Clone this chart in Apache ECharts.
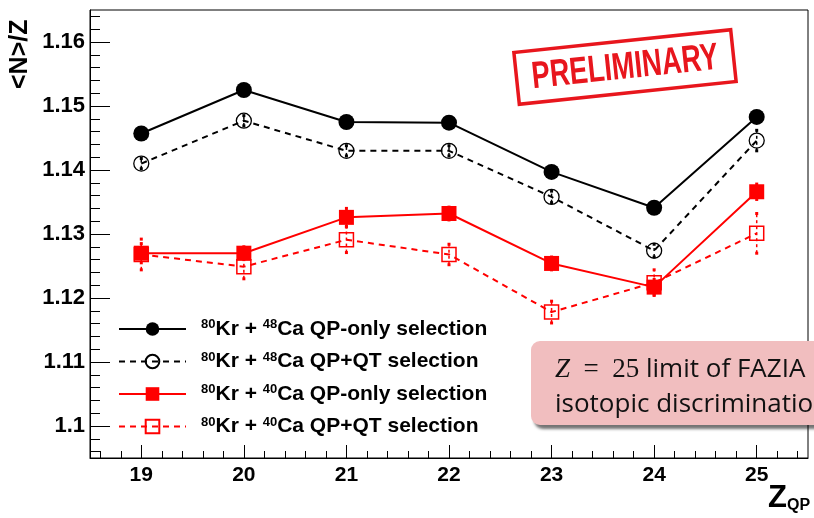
<!DOCTYPE html>
<html><head><meta charset="utf-8">
<script src="https://cdn.jsdelivr.net/npm/echarts@6/dist/echarts.min.js"></script>
<style>html,body{margin:0;padding:0;background:#fff}#c{width:814px;height:518px}</style>
</head><body><div id="c"></div>
<script>
// ---- data ----
const zValues = [19, 20, 21, 22, 23, 24, 25];
const ca48QPonly = [1.1457, 1.1525, 1.1475, 1.1474, 1.1397, 1.1341, 1.1483];
const ca48QPonlyErr = [0.0006, 0.0006, 0.0006, 0.0006, 0.0006, 0.0006, 0.0007];
const ca48QPQT = [1.1410, 1.1477, 1.1430, 1.1430, 1.1358, 1.1274, 1.1446];
const ca48QPQTErr = [0.0008, 0.0008, 0.0008, 0.0008, 0.0009, 0.0010, 0.0016];
const ca40QPonly = [1.1270, 1.1270, 1.1326, 1.1332, 1.1254, 1.1217, 1.1366];
const ca40QPonlyErr = [0.0015, 0.0010, 0.0014, 0.0010, 0.0010, 0.0012, 0.0012];
const ca40QPQT = [1.1268, 1.1249, 1.1291, 1.1268, 1.1178, 1.1224, 1.1301];
const ca40QPQTErr = [0.0024, 0.0019, 0.0020, 0.0016, 0.0017, 0.0020, 0.0031];
const xTickLabels = [19, 20, 21, 22, 23, 24, 25];
const yTickLabels = [1.10, 1.11, 1.12, 1.13, 1.14, 1.15, 1.16];
const seriesNames = [
  '{sup|80}{t|Kr + }{sup|48}{t|Ca QP-only selection}',
  '{sup|80}{t|Kr + }{sup|48}{t|Ca QP+QT selection}',
  '{sup|80}{t|Kr + }{sup|40}{t|Ca QP-only selection}',
  '{sup|80}{t|Kr + }{sup|40}{t|Ca QP+QT selection}'
];

// ---- axes helpers ----
const X_MIN = 18.5, X_MAX = 25.5, Y_MIN = 1.095, Y_MAX = 1.165;
function minorList(min, max, step) {
  const out = [];
  const n = Math.round((max - min) / step);
  for (let i = 0; i <= n; i++) {
    const v = Math.round((Math.ceil(min / step) * step + i * step) * 1e6) / 1e6;
    if (v > min && v < max) out.push(v);
  }
  return out;
}
const xMinor = minorList(X_MIN, X_MAX, 0.2);
const yMinor = minorList(Y_MIN, Y_MAX, 0.002);

const FONT = 'Liberation Sans, Arial, Helvetica, sans-serif';
const RED = '#ff0000';

function pairs(vals) { return zValues.map((z, i) => [z, vals[i]]); }
function errData(vals, errs) { return zValues.map((z, i) => [z, vals[i] - errs[i], vals[i] + errs[i]]); }
function errRender(color, dashed) {
  return function (params, api) {
    const x = api.value(0);
    const pLo = api.coord([x, api.value(1)]);
    const pHi = api.coord([x, api.value(2)]);
    const st = { stroke: color, lineWidth: 1.5, lineDash: dashed ? [3, 3] : null, fill: null };
    const cs = { stroke: color, lineWidth: 3, fill: null };
    return {
      type: 'group', children: [
        { type: 'line', shape: { x1: pLo[0], y1: pLo[1], x2: pHi[0], y2: pHi[1] }, style: st },
        { type: 'line', shape: { x1: pLo[0], y1: pLo[1] - 1.5, x2: pLo[0], y2: pLo[1] + 1.5 }, style: cs },
        { type: 'line', shape: { x1: pHi[0], y1: pHi[1] - 1.5, x2: pHi[0], y2: pHi[1] + 1.5 }, style: cs }
      ]
    };
  };
}

const chart = echarts.init(document.getElementById('c'), null, { renderer: 'canvas' });
const axisBase = { lineStyle: { color: '#000', width: 1 } };

chart.setOption({
  animation: false,
  backgroundColor: '#fff',
  grid: { left: 90, top: 10, right: 6, bottom: 60, show: true, borderColor: '#000', borderWidth: 1, containLabel: false, outerBoundsMode: 'none' },
  xAxis: [
    {
      type: 'value', min: X_MIN, max: X_MAX, position: 'bottom',
      axisLine: axisBase,
      splitLine: { show: false },
      axisTick: { show: true, inside: true, length: 13, lineStyle: { color: '#000' }, customValues: xTickLabels },
      axisLabel: { customValues: xTickLabels, color: '#000', fontFamily: FONT, fontWeight: 'bold', fontSize: 21, margin: 7 }
    },
    {
      type: 'value', min: X_MIN, max: X_MAX, position: 'bottom', gridIndex: 0,
      axisLine: { show: false },
      splitLine: { show: false },
      axisTick: { show: true, inside: true, length: 7, lineStyle: { color: '#000' }, customValues: xMinor },
      axisLabel: { show: false }
    }
  ],
  yAxis: [
    {
      type: 'value', min: Y_MIN, max: Y_MAX, position: 'left',
      axisLine: { show: true, lineStyle: { color: '#000', width: 1 } },
      splitLine: { show: false },
      axisTick: { show: true, inside: true, length: 20, lineStyle: { color: '#000' }, customValues: yTickLabels },
      axisLabel: { customValues: yTickLabels, color: '#000', fontFamily: FONT, fontWeight: 'bold', fontSize: 22, margin: 5,
        formatter: v => String(Math.round(v * 1000) / 1000) }
    },
    {
      type: 'value', min: Y_MIN, max: Y_MAX, position: 'left',
      axisLine: { show: false },
      splitLine: { show: false },
      axisTick: { show: true, inside: true, length: 10, lineStyle: { color: '#000' }, customValues: yMinor },
      axisLabel: { show: false }
    }
  ],
  legend: {
    orient: 'vertical', left: 118, top: 318, padding: 0,
    itemWidth: 67, itemHeight: 17, itemGap: 11,
    selectedMode: false,
    data: seriesNames,
    formatter: n => n,
    textStyle: {
      color: '#000', padding: [0, 0, 0, 10],
      rich: {
        t: { fontFamily: FONT, fontWeight: 'bold', fontSize: 21, lineHeight: 22, color: '#000' },
        sup: { fontFamily: FONT, fontWeight: 'bold', fontSize: 13, lineHeight: 13, verticalAlign: 'top', color: '#000' }
      }
    }
  },
  series: [
    { type: 'custom', name: 'e1', renderItem: errRender('#000', false), data: errData(ca48QPonly, ca48QPonlyErr), z: 1, silent: true },
    { type: 'custom', name: 'e2', renderItem: errRender('#000', true), data: errData(ca48QPQT, ca48QPQTErr), z: 1, silent: true },
    { type: 'custom', name: 'e3', renderItem: errRender(RED, false), data: errData(ca40QPonly, ca40QPonlyErr), z: 1, silent: true },
    { type: 'custom', name: 'e4', renderItem: errRender(RED, true), data: errData(ca40QPQT, ca40QPQTErr), z: 1, silent: true },
    {
      type: 'line', name: seriesNames[0], data: pairs(ca48QPonly), symbol: 'circle', symbolSize: 16,
      lineStyle: { color: '#000', width: 2 }, itemStyle: { color: '#000' }, z: 3
    },
    {
      type: 'line', name: seriesNames[1], data: pairs(ca48QPQT), symbol: 'circle', symbolSize: 15,
      lineStyle: { color: '#000', width: 2, type: [6, 5] },
      itemStyle: { color: 'rgba(255,255,255,0)', borderColor: '#000', borderWidth: 1.3 }, z: 3
    },
    {
      type: 'line', name: seriesNames[2], data: pairs(ca40QPonly), symbol: 'rect', symbolSize: 15,
      lineStyle: { color: RED, width: 2 }, itemStyle: { color: RED }, z: 3
    },
    {
      type: 'line', name: seriesNames[3], data: pairs(ca40QPQT), symbol: 'rect', symbolSize: 14,
      lineStyle: { color: RED, width: 2, type: [6, 5] },
      itemStyle: { color: 'rgba(255,255,255,0)', borderColor: RED, borderWidth: 1.5 }, z: 3
    }
  ],
  graphic: [
    {
      type: 'text', x: 8, y: 89, rotation: Math.PI / 2, z: 10,
      style: { text: '<N>/Z', fill: '#000', font: 'bold 25px ' + FONT, textAlign: 'left', textVerticalAlign: 'top' }
    },
    {
      type: 'text', x: 768, y: 484, z: 10,
      style: {
        text: '{z|Z}{s|QP}',
        rich: {
          z: { fontFamily: FONT, fontWeight: 'bold', fontSize: 31, lineHeight: 30, verticalAlign: 'bottom', fill: '#000' },
          s: { fontFamily: FONT, fontWeight: 'bold', fontSize: 16, lineHeight: 14, verticalAlign: 'bottom', fill: '#000' }
        }
      }
    },
    {
      type: 'group', x: 625, y: 67, rotation: 0.105, z: 20,
      children: [
        { type: 'rect', shape: { x: -109, y: -26, width: 218, height: 52 }, style: { fill: null, stroke: '#e8161d', lineWidth: 3.5 } },
        { type: 'text', x: 0, y: 1, scaleX: 0.72,
          style: { text: 'PRELIMINARY', fill: '#e8161d', font: 'bold 38px ' + FONT, textAlign: 'center', textVerticalAlign: 'middle' } }
      ]
    },
    {
      type: 'rect', z: 30,
      shape: { x: 531, y: 341, width: 330, height: 84, r: 9 },
      style: { fill: '#f1bebf', shadowBlur: 3, shadowOffsetX: 3, shadowOffsetY: 4, shadowColor: 'rgba(0,0,0,0.55)' }
    },
    {
      type: 'text', x: 555, y: 352, z: 31,
      style: {
        text: '{m|Z}{r|  =  25}{s| limit of FAZIA}\n{s|isotopic discrimination}',
        rich: {
          m: { fontFamily: 'Liberation Serif, DejaVu Serif, serif', fontStyle: 'italic', fontSize: 27, lineHeight: 35, fill: '#111' },
          r: { fontFamily: 'Liberation Serif, DejaVu Serif, serif', fontSize: 27, lineHeight: 35, fill: '#111' },
          s: { fontFamily: 'Open Sans, DejaVu Sans, sans-serif', fontSize: 26, lineHeight: 35, fill: '#111' }
        }
      }
    }
  ]
});
</script>
</body></html>
